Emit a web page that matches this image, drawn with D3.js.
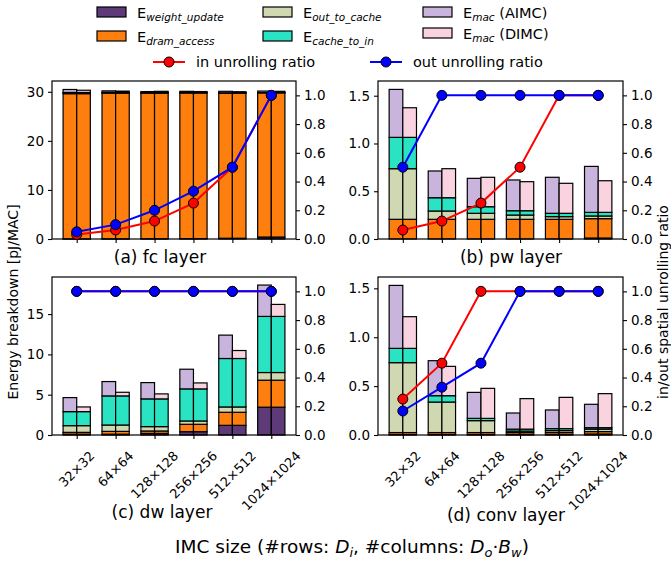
<!DOCTYPE html>
<html>
<head>
<meta charset="utf-8">
<script src="https://cdn.jsdelivr.net/npm/d3@7"></script>
<style>
body { margin: 0; background: #fff; }
text { font-family: "DejaVu Sans", sans-serif; fill: #000; }
</style>
</head>
<body>
<div id="root"></div>
<script>
var width = 671;
var height = 563;

// IMC sizes (x categories)
var sizes = ["32×32", "64×64", "128×128", "256×256", "512×512", "1024×1024"];

// (a) fc layer, pJ/MAC
var fcWeight = [0.02, 0.03, 0.05, 0.08, 0.15, 0.4];
var fcDram   = [29.6, 29.7, 29.7, 29.7, 29.6, 29.4];
var fcOut    = [0.15, 0.08, 0.05, 0.03, 0.02, 0.02];
var fcCache  = [0.1, 0.08, 0.05, 0.04, 0.03, 0.03];
var fcMacA   = [0.6, 0.3, 0.2, 0.25, 0.3, 0.3];
var fcMacD   = [0.45, 0.25, 0.25, 0.2, 0.22, 0.25];
var fcIn     = [0.03125, 0.0625, 0.125, 0.25, 0.5, 1.0];
var fcOutR   = [0.05, 0.1, 0.2, 0.333, 0.5, 1.0];

// (b) pw layer
var pwWeight = [0, 0, 0, 0, 0, 0.01];
var pwDram   = [0.206, 0.206, 0.206, 0.206, 0.206, 0.203];
var pwOut    = [0.53, 0.087, 0.063, 0.045, 0.028, 0.028];
var pwCache  = [0.328, 0.139, 0.069, 0.045, 0.035, 0.038];
var pwMacA   = [0.502, 0.28, 0.297, 0.322, 0.377, 0.481];
var pwMacD   = [0.31, 0.304, 0.308, 0.304, 0.314, 0.331];
var pwIn     = [0.0625, 0.125, 0.25, 0.5, 1.0, 1.0];
var pwOutR   = [0.5, 1.0, 1.0, 1.0, 1.0, 1.0];

// (c) dw layer
var dwWeight = [0.1, 0.1, 0.2, 0.41, 1.2, 3.45];
var dwDram   = [0.23, 0.35, 0.3, 0.92, 1.62, 3.35];
var dwOut    = [0.83, 0.79, 0.54, 0.41, 0.66, 0.95];
var dwCache  = [1.74, 3.61, 3.44, 3.98, 6.01, 6.96];
var dwMacA   = [1.74, 1.78, 2.02, 2.44, 2.9, 3.89];
var dwMacD   = [0.58, 0.45, 0.62, 0.74, 0.99, 1.49];
var dwIn     = [1.0, 1.0, 1.0, 1.0, 1.0, 1.0];
var dwOutR   = [1.0, 1.0, 1.0, 1.0, 1.0, 1.0];

// (d) conv layer
var cvWeight = [0.005, 0.005, 0.005, 0.005, 0.005, 0.01];
var cvDram   = [0.02, 0.02, 0.02, 0.02, 0.02, 0.025];
var cvOut    = [0.715, 0.312, 0.122, 0.015, 0.02, 0.025];
var cvCache  = [0.146, 0.065, 0.023, 0.02, 0.02, 0.015];
var cvMacA   = [0.644, 0.358, 0.266, 0.165, 0.191, 0.239];
var cvMacD   = [0.324, 0.3, 0.307, 0.312, 0.32, 0.348];
var cvIn     = [0.25, 0.5, 1.0, 1.0, 1.0, 1.0];
var cvOutR   = [0.167, 0.333, 0.5, 1.0, 1.0, 1.0];

var ratioTicks = [0, 0.2, 0.4, 0.6, 0.8, 1.0];

var keys = ["weight", "dram", "out", "cache", "mac"];
var colors = {
	weight: "#5e3b78",
	dram: "#ff7f0e",
	out: "#cfd8b0",
	cache: "#2ae3c2",
	macA: "#c8b4dc",
	macD: "#fad3e0"
};

var svg = d3.select("#root")
.append("svg")
.attr("width", width)
.attr("height", height)
.style("background-color", "#fff");

function rows(w, d, o, c, m) {
	return sizes.map(function(s, i) {
		return {weight: w[i], dram: d[i], out: o[i], cache: c[i], mac: m[i]};
	});
}

function styleAxis(g, fs) {
	g.select(".domain").remove();
	g.selectAll(".tick line").attr("stroke", "#000").attr("stroke-width", 1.1);
	g.selectAll(".tick text").attr("font-size", fs).attr("font-family", "DejaVu Sans").attr("fill", "#000");
}

function panel(p) {
	var x = d3.scaleLinear().domain([-0.635, 5.635]).range([p.x0, p.x1]);
	var y = d3.scaleLinear().domain([0, p.ymax]).range([p.y1, p.y0]);
	var y2 = d3.scaleLinear().domain([0, 1.1]).range([p.y1, p.y0]);
	var g = svg.append("g");

	// bars: AIMC on the left half, DIMC on the right half of each group
	[[-0.35, p.aimc, colors.macA], [0, p.dimc, colors.macD]].forEach(function(v) {
		var series = d3.stack().keys(keys)(v[1]);
		series.forEach(function(s) {
			g.append("g")
			.selectAll("rect")
			.data(s)
			.enter()
			.append("rect")
			.attr("x", function(d, i) { return x(i + v[0]); })
			.attr("width", x(0.35) - x(0))
			.attr("y", function(d) { return y(d[1]); })
			.attr("height", function(d) { return y(d[0]) - y(d[1]); })
			.attr("fill", s.key == "mac" ? v[2] : colors[s.key])
			.attr("stroke", "#000")
			.attr("stroke-width", 1.2);
		});
	});

	// frame
	g.append("rect")
	.attr("x", p.x0).attr("y", p.y0)
	.attr("width", p.x1 - p.x0).attr("height", p.y1 - p.y0)
	.attr("fill", "none").attr("stroke", "#000").attr("stroke-width", 1.2);

	var ax = g.append("g").attr("transform", "translate(" + p.x0 + ",0)")
	.call(d3.axisLeft(y).tickValues(p.ticks).tickFormat(p.fmt).tickSize(4).tickPadding(4));
	styleAxis(ax, 13.5);

	var ar = g.append("g").attr("transform", "translate(" + p.x1 + ",0)")
	.call(d3.axisRight(y2).tickValues(ratioTicks).tickFormat(d3.format(".1f")).tickSize(4).tickPadding(4));
	styleAxis(ar, 13.5);

	var ab = g.append("g").attr("transform", "translate(0," + p.y1 + ")")
	.call(d3.axisBottom(x).tickValues(d3.range(sizes.length)).tickFormat("").tickSize(4));
	styleAxis(ab, 13.5);

	if (p.labels) {
		g.selectAll(".xl")
		.data(sizes)
		.enter()
		.append("text")
		.attr("class", "xl")
		.text(function(d) { return d; })
		.attr("font-size", 13)
		.attr("text-anchor", "middle")
		.attr("dominant-baseline", "central")
		.attr("transform", function(d, i) {
			var L = this.getComputedTextLength();
			var off = (L + 10) / (2 * Math.SQRT2);
			return "translate(" + x(i) + "," + (p.y1 + 15 + off) + ") rotate(-45)";
		});
	}

	// ratio lines, red first, blue on top
	var line = d3.line()
	.x(function(d, i) { return x(i); })
	.y(function(d) { return y2(d); });

	[[p.inR, "#ff0000"], [p.outR, "#0000ff"]].forEach(function(l) {
		g.append("path")
		.datum(l[0])
		.attr("d", line)
		.attr("fill", "none")
		.attr("stroke", l[1])
		.attr("stroke-width", 2);
		g.append("g")
		.selectAll("circle")
		.data(l[0])
		.enter()
		.append("circle")
		.attr("cx", function(d, i) { return x(i); })
		.attr("cy", function(d) { return y2(d); })
		.attr("r", 5)
		.attr("fill", l[1])
		.attr("stroke", "#000")
		.attr("stroke-width", 1);
	});

	svg.append("text")
	.attr("x", p.tx).attr("y", p.ty)
	.attr("text-anchor", "middle")
	.attr("dominant-baseline", "central")
	.attr("font-size", 17)
	.text(p.title);
}

var f0 = d3.format("d");
var f1 = d3.format(".1f");

panel({x0: 52, x1: 296, y0: 81, y1: 239, ymax: 32.2, ticks: [0, 10, 20, 30], fmt: f0,
	aimc: rows(fcWeight, fcDram, fcOut, fcCache, fcMacA), dimc: rows(fcWeight, fcDram, fcOut, fcCache, fcMacD),
	inR: fcIn, outR: fcOutR, title: "(a) fc layer", tx: 160, ty: 257, labels: false});
panel({x0: 378, x1: 623, y0: 81, y1: 239, ymax: 1.654, ticks: [0, 0.5, 1.0, 1.5], fmt: f1,
	aimc: rows(pwWeight, pwDram, pwOut, pwCache, pwMacA), dimc: rows(pwWeight, pwDram, pwOut, pwCache, pwMacD),
	inR: pwIn, outR: pwOutR, title: "(b) pw layer", tx: 511, ty: 257, labels: false});
panel({x0: 52, x1: 296, y0: 277, y1: 435, ymax: 19.6, ticks: [0, 5, 10, 15], fmt: f0,
	aimc: rows(dwWeight, dwDram, dwOut, dwCache, dwMacA), dimc: rows(dwWeight, dwDram, dwOut, dwCache, dwMacD),
	inR: dwIn, outR: dwOutR, title: "(c) dw layer", tx: 162, ty: 512, labels: true});
panel({x0: 378, x1: 623, y0: 277, y1: 435, ymax: 1.616, ticks: [0, 0.5, 1.0, 1.5], fmt: f1,
	aimc: rows(cvWeight, cvDram, cvOut, cvCache, cvMacA), dimc: rows(cvWeight, cvDram, cvOut, cvCache, cvMacD),
	inR: cvIn, outR: cvOutR, title: "(d) conv layer", tx: 506, ty: 515, labels: true});

// axis titles
svg.append("text")
.attr("transform", "translate(13,302) rotate(-90)")
.attr("text-anchor", "middle").attr("dominant-baseline", "central")
.attr("font-size", 14)
.text("Energy breakdown [pJ/MAC]");

svg.append("text")
.attr("transform", "translate(663,302) rotate(-90)")
.attr("text-anchor", "middle").attr("dominant-baseline", "central")
.attr("font-size", 14)
.text("in/out spatial unrolling ratio");

var xl = svg.append("text")
.attr("x", 352).attr("y", 553)
.attr("text-anchor", "middle")
.attr("font-size", 18.5);
xl.append("tspan").text("IMC size (#rows: ");
xl.append("tspan").attr("font-style", "italic").text("D");
xl.append("tspan").attr("font-style", "italic").attr("font-size", 13).attr("dy", 4).text("i");
xl.append("tspan").attr("dy", -4).text(", #columns: ");
xl.append("tspan").attr("font-style", "italic").text("D");
xl.append("tspan").attr("font-style", "italic").attr("font-size", 13).attr("dy", 4).text("o");
xl.append("tspan").attr("dy", -4).text("·");
xl.append("tspan").attr("font-style", "italic").text("B");
xl.append("tspan").attr("font-style", "italic").attr("font-size", 13).attr("dy", 4).text("w");
xl.append("tspan").attr("dy", -4).text(")");

// legend: energy components
var legendItems = [
	{x: 97, y: 7, fill: colors.weight, sub: "weight_update", tail: ""},
	{x: 97, y: 31, fill: colors.dram, sub: "dram_access", tail: ""},
	{x: 263, y: 7, fill: colors.out, sub: "out_to_cache", tail: ""},
	{x: 263, y: 31, fill: colors.cache, sub: "cache_to_in", tail: ""},
	{x: 423, y: 7, fill: colors.macA, sub: "mac", tail: " (AIMC)"},
	{x: 423, y: 28, fill: colors.macD, sub: "mac", tail: " (DIMC)"}
];

var legend = svg.append("g");
legendItems.forEach(function(d) {
	legend.append("rect")
	.attr("x", d.x).attr("y", d.y)
	.attr("width", 29).attr("height", 10)
	.attr("fill", d.fill)
	.attr("stroke", "#000").attr("stroke-width", 1.2);
	var t = legend.append("text")
	.attr("x", d.x + 40).attr("y", d.y + 11)
	.attr("font-size", 14.5);
	t.append("tspan").text("E");
	t.append("tspan").attr("font-style", "italic").attr("font-size", 10.5).attr("dy", 3).text(d.sub);
	if (d.tail) t.append("tspan").attr("dy", -3).text(d.tail);
});

// legend: ratio lines
[{x: 153, c: "#ff0000", label: "in unrolling ratio"}, {x: 370, c: "#0000ff", label: "out unrolling ratio"}].forEach(function(d) {
	legend.append("line")
	.attr("x1", d.x).attr("x2", d.x + 32)
	.attr("y1", 62).attr("y2", 62)
	.attr("stroke", d.c).attr("stroke-width", 2);
	legend.append("circle")
	.attr("cx", d.x + 16).attr("cy", 62).attr("r", 5)
	.attr("fill", d.c).attr("stroke", "#000").attr("stroke-width", 1);
	legend.append("text")
	.attr("x", d.x + 43).attr("y", 62)
	.attr("dominant-baseline", "central")
	.attr("font-size", 14.5)
	.text(d.label);
});
</script>
</body>
</html>
